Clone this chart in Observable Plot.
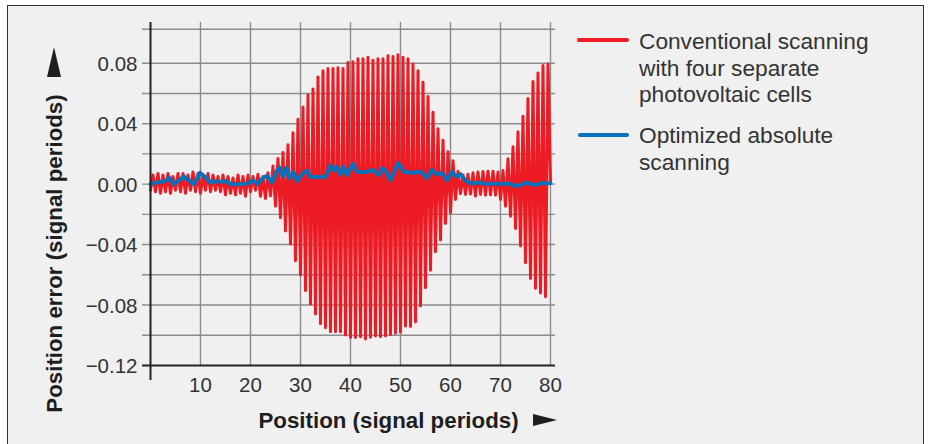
<!DOCTYPE html>
<html>
<head>
<meta charset="utf-8">
<script src="https://cdn.jsdelivr.net/npm/d3@7"></script>
<script src="https://cdn.jsdelivr.net/npm/@observablehq/plot@0.6"></script>
<style>
  html, body { margin: 0; padding: 0; background: #ffffff; }
  body { width: 931px; height: 444px; position: relative; overflow: hidden; font-family: "Liberation Sans", Arial, sans-serif; }
  #box { position: absolute; left: 7px; top: 5px; width: 917px; height: 460px; border: 1.5px solid #333; background: #f0f0f0; box-sizing: border-box; }
  #chart { position: absolute; left: 0; top: 0; }
  #legend { position: absolute; left: 0; top: 0; width: 931px; height: 444px; pointer-events: none; }
  .lg-line { position: absolute; height: 4px; border-radius: 2px; }
  .lg-text { position: absolute; font-size: 22.7px; line-height: 26.7px; color: #333; white-space: nowrap; }
  .arrow-right { position: absolute; width: 0; height: 0; border-left: 24px solid #1e1e1e; border-top: 6px solid transparent; border-bottom: 6px solid transparent; }
  .arrow-up { position: absolute; width: 0; height: 0; border-bottom: 30px solid #1e1e1e; border-left: 7.5px solid transparent; border-right: 7.5px solid transparent; }
</style>
</head>
<body>
<div id="box"></div>
<div id="chart"></div>
<div id="legend">
  <div class="lg-line" style="left:577px; top:37.5px; width:52px; background:#ed1c24;"></div>
  <div class="lg-text" style="left:639px; top:28px;">Conventional scanning<br>with four separate<br>photovoltaic cells</div>
  <div class="lg-line" style="left:578px; top:133px; width:51px; background:#0a70b9;"></div>
  <div class="lg-text" style="left:639px; top:122px;">Optimized absolute<br>scanning</div>
  <div class="arrow-right" style="left:533px; top:414px;"></div>
  <div class="arrow-up" style="left:47px; top:47px;"></div>
</div>
<script>
// ---- Data ----
// Conventional scanning: one trough (at period n) and one peak (at n + 0.5) per signal period, n = 0..79
const redTroughs = [
  -0.004, -0.005, -0.006, -0.005, -0.006, -0.004, -0.005, -0.006, -0.004, -0.005,
  -0.006, -0.004, -0.005, -0.004, -0.005, -0.007, -0.006, -0.007, -0.006, -0.008,
  -0.005, -0.004, -0.008, -0.0095, -0.0077, -0.0146, -0.0223, -0.031, -0.0397, -0.0507,
  -0.0602, -0.0705, -0.0793, -0.086, -0.0925, -0.095, -0.0977, -0.0977, -0.0977, -0.0998,
  -0.1016, -0.1016, -0.101, -0.1025, -0.1013, -0.1005, -0.101, -0.1005, -0.0996, -0.0987,
  -0.098, -0.094, -0.0943, -0.0912, -0.0807, -0.0686, -0.057, -0.0448, -0.037, -0.026,
  -0.019, -0.0101, -0.0062, -0.0068, -0.0066, -0.008, -0.0068, -0.0073, -0.0071, -0.0073,
  -0.0101, -0.0146, -0.0212, -0.0293, -0.041, -0.052, -0.0624, -0.069, -0.072, -0.0745
];
const redPeaks = [
  0.006, 0.007, 0.006, 0.007, 0.005, 0.007, 0.007, 0.006, 0.008, 0.007,
  0.006, 0.007, 0.006, 0.005, 0.006, 0.005, 0.004, 0.006, 0.005, 0.006,
  0.005, 0.0066, 0.005, 0.0075, 0.012, 0.017, 0.021, 0.026, 0.034, 0.043,
  0.051, 0.059, 0.063, 0.071, 0.075, 0.0765, 0.0765, 0.077, 0.0765, 0.0805,
  0.081, 0.083, 0.083, 0.084, 0.082, 0.083, 0.083, 0.085, 0.0845, 0.0857,
  0.084, 0.083, 0.0795, 0.075, 0.0675, 0.058, 0.0476, 0.0366, 0.029, 0.0214,
  0.0154, 0.0086, 0.006, 0.0066, 0.0075, 0.008, 0.0084, 0.0086, 0.0086, 0.008,
  0.009, 0.0168, 0.0247, 0.0346, 0.045, 0.0567, 0.068, 0.0736, 0.0785, 0.0795
];
const redEnd = { x: 80, y: 0.002 };

// Optimized absolute scanning
const blueX = [
  0, 1, 2, 3, 3.7, 4.7, 5.7, 6.7, 7.7, 8.7, 9.9, 11, 12, 13, 14, 15, 16, 18, 19.5, 20.5,
  21.3, 22.3, 23.3, 24.3, 25.3, 25.8, 26.5, 27.2, 27.8, 28.6, 29.3, 30.3, 31.3, 32, 35, 36, 36.7, 37.3, 38, 38.6,
  39.3, 40.5, 41.3, 43.3, 44.5, 45.7, 46.3, 47, 48, 49.5, 50.7, 52.7, 54, 55.3, 56.3, 57.2, 58.3, 59.3, 60.3, 61.2,
  62, 63, 64, 66, 67.3, 69, 70, 71.5, 73.3, 75.3, 76.7, 78, 79.3, 80
];
const blueY = [
  0.000, 0.001, 0.0015, 0.002, 0.0045, 0.000, 0.0025, 0.005, 0.0025, 0.000, 0.0075, 0.0045, 0.001, 0.002, 0.0015, 0.002, 0.000, 0.000, 0.0005, 0.0025,
  0.000, 0.0035, 0.0055, 0.001, 0.009, 0.011, 0.005, 0.011, 0.004, 0.008, 0.002, 0.0065, 0.009, 0.0048, 0.0048, 0.0126, 0.009, 0.0115, 0.0065, 0.0115,
  0.006, 0.0135, 0.0081, 0.0081, 0.0095, 0.006, 0.0105, 0.009, 0.0026, 0.014, 0.0081, 0.0075, 0.0085, 0.004, 0.0095, 0.0065, 0.0075, 0.0026, 0.0081, 0.005,
  0.0066, 0.0026, 0.0005, 0.001, 0.000, 0.0005, 0.000, 0.0005, -0.0013, 0.001, -0.0007, 0.0005, 0.0005, 0.0005
];

// Axes
const xTicks = [10, 20, 30, 40, 50, 60, 70, 80];
const yTickLabels = [-0.12, -0.08, -0.04, 0.00, 0.04, 0.08];
const yGrid = [-0.10, -0.08, -0.06, -0.04, -0.02, 0.00, 0.02, 0.04, 0.06, 0.08];
const yFrameTop = 0.1025;
const xDomain = [-1.6, 81];
const yDomain = [-0.13, 0.107];
const yAxisBase = -0.12;
const xTitle = "Position (signal periods)";
const yTitle = "Position error (signal periods)";

// ---- Build tables ----
const redData = [];
redTroughs.forEach((t, n) => {
  redData.push({ x: n, y: t });
  redData.push({ x: n + 0.5, y: redPeaks[n] });
});
redData.push(redEnd);
const blueData = blueX.map((x, i) => ({ x, y: blueY[i] }));

const fmt = d3.format(".2f");
const gridColor = "#8c8c8c";

const plot = Plot.plot({
  width: 931,
  height: 444,
  marginLeft: 142,
  marginRight: 376,
  marginTop: 22,
  marginBottom: 64,
  x: { domain: xDomain, axis: null },
  y: { domain: yDomain, axis: null },
  style: { background: "transparent", fontFamily: "'Liberation Sans', Arial, sans-serif", overflow: "visible" },
  marks: [
    Plot.ruleY(yGrid, { stroke: gridColor, strokeWidth: 1.4 }),
    Plot.ruleY([yFrameTop], { stroke: gridColor, strokeWidth: 1.4 }),
    Plot.ruleX(xTicks, { y1: yAxisBase, y2: yDomain[1], stroke: gridColor, strokeWidth: 1.4 }),
    Plot.line(redData, { x: "x", y: "y", stroke: "#ed1c24", strokeWidth: 3, strokeLinejoin: "round", strokeLinecap: "round" }),
    Plot.line(blueData, { x: "x", y: "y", stroke: "#0a70b9", strokeWidth: 4, strokeLinejoin: "round", strokeLinecap: "round" }),
    Plot.ruleY([yAxisBase], { stroke: "#222", strokeWidth: 2 }),
    Plot.ruleX([0], { stroke: "#222", strokeWidth: 2 }),
    Plot.text(yTickLabels, { y: d => d, frameAnchor: "left", textAnchor: "end", dx: -5, dy: 1, text: d => fmt(d), fontSize: 20.5, fill: "#333" }),
    Plot.text(xTicks, { x: d => d, y: yAxisBase, dy: 20, text: d => String(d), fontSize: 20.5, fill: "#333" }),
    Plot.text([xTitle], { frameAnchor: "bottom", textAnchor: "middle", text: d => d, dx: 39.5, dy: 47, fontSize: 22.3, fontWeight: "bold", fill: "#1e1e1e" }),
    Plot.text([yTitle], { frameAnchor: "left", textAnchor: "middle", text: d => d, rotate: -90, dx: -88, dy: 52, fontSize: 22.3, fontWeight: "bold", fill: "#1e1e1e" })
  ]
});
document.getElementById("chart").appendChild(plot);
</script>
</body>
</html>
